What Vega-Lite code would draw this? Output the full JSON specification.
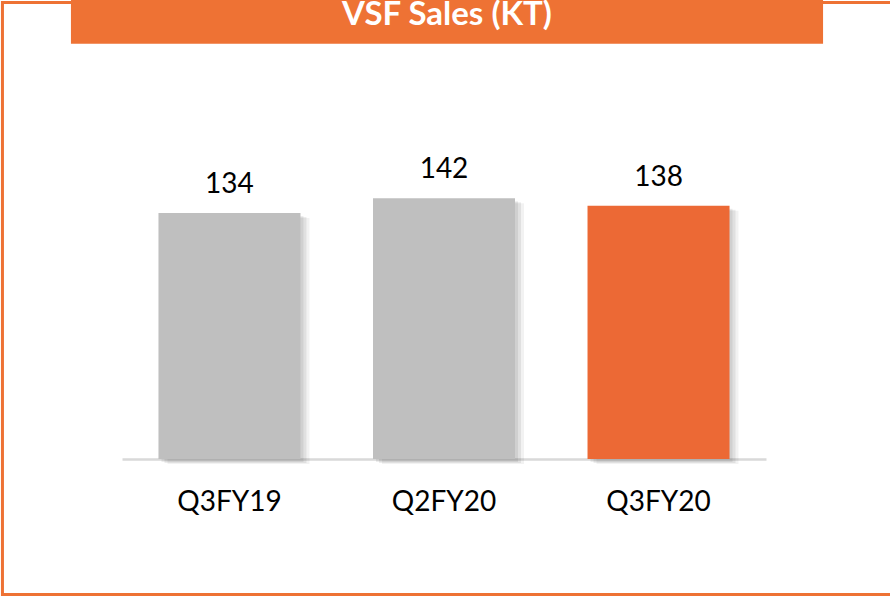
{
  "$schema": "https://vega.github.io/schema/vega-lite/v6.json",
  "width": 644,
  "height": 459,
  "autosize": {"type": "none"},
  "padding": {"left": 122, "right": 124, "top": 0, "bottom": 137},
  "background": "#ffffff",
  "config": {"view": {"stroke": null}, "font": "Lato"},
  "data": {"values": [
    {"q": "Q3FY19", "v": 134},
    {"q": "Q2FY20", "v": 142},
    {"q": "Q3FY20", "v": 138}
  ]},
  "encoding": {
    "x": {"field": "q", "type": "nominal", "sort": null,
      "scale": {"domain": ["Q3FY19", "Q2FY20", "Q3FY20"], "paddingInner": 0.338, "paddingOuter": 0.17},
      "axis": {"title": null, "labelAngle": 0, "ticks": false, "tickSize": 0,
        "domainColor": "#D9D9D9", "domainWidth": 2.5,
        "labelFont": "Lato", "labelFontSize": 28, "labelColor": "#000000",
        "labelBaseline": "alphabetic", "labelPadding": 51, "grid": false}},
    "y": {"field": "v", "type": "quantitative",
      "scale": {"domain": [0, 250], "nice": false, "zero": true},
      "axis": null}
  },
  "layer": [
    {"transform": [{"filter": "datum.q == 'Q2FY20'"}],
     "mark": {"type": "bar", "fill": "transparent", "stroke": "#EE7234", "strokeWidth": 3, "width": {"band": 6.4}, "xOffset": 12.9, "clip": false},
     "encoding": {
       "y": {"datum": 248.6},
       "y2": {"datum": -73.8}
     }},
    {"transform": [{"filter": "datum.q == 'Q2FY20'"}],
     "mark": {"type": "bar", "fill": "#EE7234", "width": {"band": 5.296}, "xOffset": 3, "clip": false},
     "encoding": {
       "y": {"datum": 252},
       "y2": {"datum": 226.2}
     }},
    {"transform": [{"filter": "datum.q == 'Q2FY20'"}],
     "mark": {"type": "text", "text": "VSF Sales (KT)", "color": "#FFFFFF", "font": "Lato", "fontSize": 33, "fontWeight": "bold", "align": "center", "baseline": "alphabetic", "dx": 3, "clip": false},
     "encoding": {
       "y": {"datum": 236.2}
     }},
    {"mark": {"type": "bar", "color": "#000000", "opacity": 0.07, "xOffset": 3, "yOffset": 3}},
    {"mark": {"type": "bar", "color": "#000000", "opacity": 0.07, "xOffset": 6, "yOffset": 4}},
    {"mark": {"type": "bar", "color": "#000000", "opacity": 0.05, "xOffset": 9, "yOffset": 5}},
    {"mark": {"type": "bar"},
     "encoding": {
       "color": {"field": "q", "type": "nominal",
         "scale": {"domain": ["Q3FY19", "Q2FY20", "Q3FY20"], "range": ["#BFBFBF", "#BFBFBF", "#EC6935"]},
         "legend": null}
     }},
    {"mark": {"type": "text", "font": "Lato", "fontSize": 28, "color": "#000000", "baseline": "alphabetic", "dy": -20},
     "encoding": {"text": {"field": "v", "type": "quantitative"}}}
  ]
}
